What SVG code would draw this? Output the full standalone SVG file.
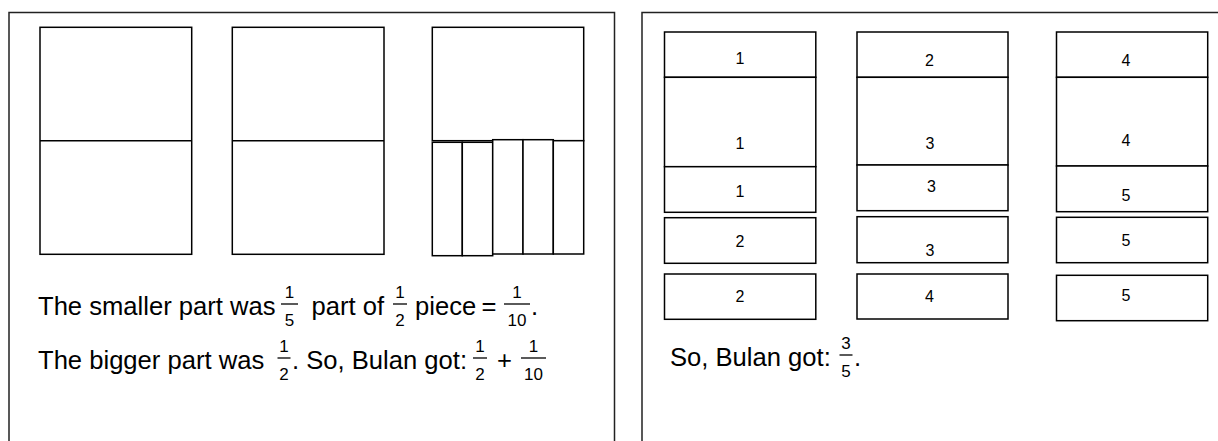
<svg xmlns="http://www.w3.org/2000/svg" width="1218" height="441" viewBox="0 0 1218 441">
<style>
.frame{fill:none;stroke:#222;stroke-width:1.5}
.bx{fill:#fff;stroke:#000;stroke-width:1.5}
.ln{stroke:#000;stroke-width:1.5;fill:none}
.txt{font-family:"Liberation Sans",Arial,sans-serif;font-size:25.6px;fill:#000}
.fr{font-family:"Liberation Sans",Arial,sans-serif;font-size:17px;fill:#000;text-anchor:middle}
.bar{stroke:#000;stroke-width:1.3}
.lbl{font-family:"Liberation Sans",Arial,sans-serif;font-size:16px;fill:#000;text-anchor:middle}
</style>
<rect width="1218" height="441" fill="#fff"/>
<g id="left-panel">
  <path class="frame" d="M9 445 V12.5 H614.5 V445"/>
  <g id="square-1">
    <rect class="bx" x="40" y="27.3" width="151.7" height="227"/>
    <line class="ln" x1="40" y1="140.7" x2="191.7" y2="140.7"/>
  </g>
  <g id="square-2">
    <rect class="bx" x="232.3" y="27.3" width="151.7" height="227"/>
    <line class="ln" x1="232.3" y1="140.7" x2="384" y2="140.7"/>
  </g>
  <g id="square-3">
    <rect class="bx" x="432.3" y="27.3" width="151.4" height="113.4"/>
    <rect class="bx" x="432.3" y="142.3" width="30" height="113.4"/>
    <rect class="bx" x="462.3" y="142.3" width="30.4" height="113.4"/>
    <rect class="bx" x="492.7" y="139.7" width="30.3" height="114.3"/>
    <rect class="bx" x="523" y="139.7" width="30.3" height="114.3"/>
    <rect class="bx" x="553.3" y="140.7" width="30.4" height="113.3"/>
  </g>
  <g id="left-text">
    <text class="txt" x="38" y="315">The smaller part was</text>
    <text class="fr" x="289.5" y="297.5">1</text>
    <line class="bar" x1="281" y1="304" x2="298" y2="304"/>
    <text class="fr" x="289.5" y="326">5</text>
    <text class="txt" x="311.5" y="315">part of</text>
    <text class="fr" x="400" y="297.5">1</text>
    <line class="bar" x1="393" y1="304" x2="407" y2="304"/>
    <text class="fr" x="400" y="326">2</text>
    <text class="txt" x="415" y="315">piece</text>
    <text class="txt" x="489" y="315" text-anchor="middle">=</text>
    <text class="fr" x="517" y="297.5">1</text>
    <line class="bar" x1="504" y1="304" x2="530" y2="304"/>
    <text class="fr" x="517" y="326">10</text>
    <text class="txt" x="531" y="315">.</text>

    <text class="txt" x="38" y="369">The bigger part was</text>
    <text class="fr" x="284" y="351.5">1</text>
    <line class="bar" x1="277.5" y1="358" x2="290.5" y2="358"/>
    <text class="fr" x="284" y="380">2</text>
    <text class="txt" x="292" y="369">. So, Bulan got:</text>
    <text class="fr" x="480" y="351.5">1</text>
    <line class="bar" x1="473" y1="358" x2="487" y2="358"/>
    <text class="fr" x="480" y="380">2</text>
    <text class="txt" x="504.5" y="369" text-anchor="middle">+</text>
    <text class="fr" x="533.5" y="351.5">1</text>
    <line class="bar" x1="521" y1="358" x2="546" y2="358"/>
    <text class="fr" x="533.5" y="380">10</text>
  </g>
</g>
<g id="right-panel">
  <path class="frame" d="M642 445 V12.5 H1219"/>
  <g id="column-1">
    <rect class="bx" x="664.5" y="32" width="151.3" height="45.3"/>
    <rect class="bx" x="664.5" y="77.3" width="151.3" height="89.4"/>
    <rect class="bx" x="664.5" y="166.7" width="151.3" height="45.6"/>
    <rect class="bx" x="664.5" y="217.7" width="151.3" height="45.6"/>
    <rect class="bx" x="664.5" y="274" width="151.3" height="45.3"/>
    <text class="lbl" x="740" y="64">1</text>
    <text class="lbl" x="740" y="148.5">1</text>
    <text class="lbl" x="740" y="197">1</text>
    <text class="lbl" x="740" y="247">2</text>
    <text class="lbl" x="740" y="302">2</text>
  </g>
  <g id="column-2">
    <rect class="bx" x="857" y="32" width="151" height="45.3"/>
    <rect class="bx" x="857" y="77.3" width="151" height="87.7"/>
    <rect class="bx" x="857" y="165" width="151" height="45.7"/>
    <rect class="bx" x="857" y="216.7" width="151" height="46"/>
    <rect class="bx" x="857" y="274" width="151" height="45"/>
    <text class="lbl" x="929.5" y="65.5">2</text>
    <text class="lbl" x="930" y="148.5">3</text>
    <text class="lbl" x="931.5" y="191.5">3</text>
    <text class="lbl" x="930" y="255.5">3</text>
    <text class="lbl" x="929.5" y="302">4</text>
  </g>
  <g id="column-3">
    <rect class="bx" x="1056.5" y="32" width="151.2" height="45.3"/>
    <rect class="bx" x="1056.5" y="77.3" width="151.2" height="88.7"/>
    <rect class="bx" x="1056.5" y="166" width="151.2" height="45.7"/>
    <rect class="bx" x="1056.5" y="217.3" width="151.2" height="45.4"/>
    <rect class="bx" x="1056.5" y="275.3" width="151.2" height="45.4"/>
    <text class="lbl" x="1126" y="65.5">4</text>
    <text class="lbl" x="1126" y="145.5">4</text>
    <text class="lbl" x="1126" y="200.5">5</text>
    <text class="lbl" x="1126" y="245.5">5</text>
    <text class="lbl" x="1126" y="300.5">5</text>
  </g>
  <g id="right-text">
    <text class="txt" x="670" y="366">So, Bulan got:</text>
    <text class="fr" x="846" y="348.5">3</text>
    <line class="bar" x1="839.5" y1="355" x2="852.5" y2="355"/>
    <text class="fr" x="846" y="377">5</text>
    <text class="txt" x="854" y="366">.</text>
  </g>
</g>
<g id="connectors"/>
</svg>
